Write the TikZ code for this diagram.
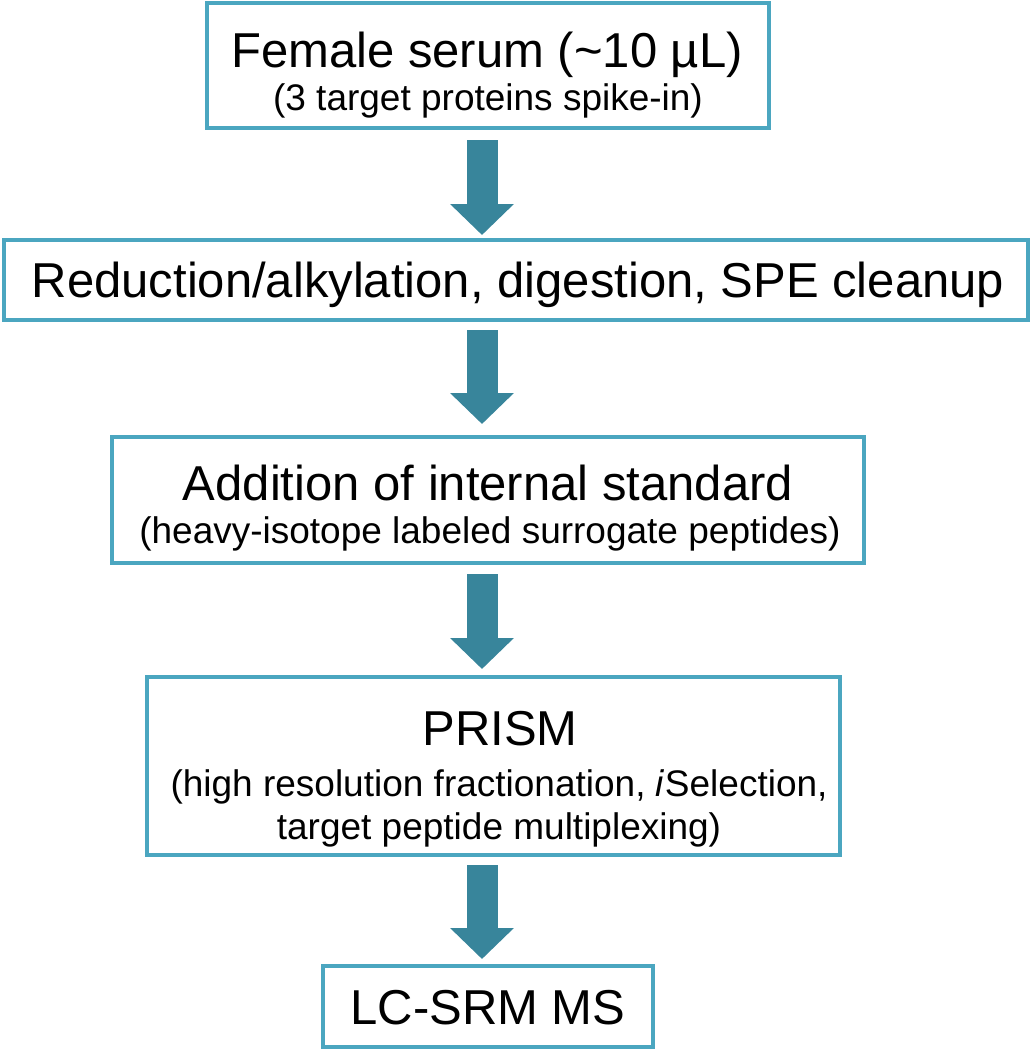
\documentclass[tikz,border=0pt]{standalone}
\usepackage{fontspec}
\setmainfont{Liberation Sans}
\usetikzlibrary{arrows.meta}
\definecolor{boxline}{RGB}{75,166,192}
\definecolor{arrowfill}{RGB}{56,133,155}
\begin{document}
\begin{tikzpicture}[x=1pt,y=-1pt,
  stepbox/.style={draw=boxline, line width=4pt, rectangle, inner sep=0pt, outer sep=0pt, fill=white},
  bigtxt/.style={font=\fontsize{49}{56}\selectfont, inner sep=0pt, anchor=base},
  smalltxt/.style={font=\fontsize{37}{42}\selectfont, inner sep=0pt, anchor=base},
  flow/.style={draw=arrowfill, line width=31pt, -{Triangle[width=62pt,length=31pt]}}]
\useasboundingbox (0,0) rectangle (1032,1050);
\coordinate (ax) at (482,0);
% boxes
\node[stepbox, minimum width=562pt, minimum height=125pt] (b1) at (488,65.5) {};
\node[stepbox, minimum width=1024pt, minimum height=80pt] (b2) at (516,280) {};
\node[stepbox, minimum width=752pt, minimum height=126pt] (b3) at (488,500) {};
\node[stepbox, minimum width=693pt, minimum height=178pt] (b4) at (493.5,766) {};
\node[stepbox, minimum width=330pt, minimum height=81pt] (b5) at (488,1006.5) {};
% texts
\node[bigtxt] (t1) at (487,67) {Female serum (\textasciitilde10 µL)};
\node[smalltxt] (t1s) at (488,110) {(3 target proteins spike-in)};
\node[bigtxt] (t2) at (518,297) {Reduction/alkylation, digestion, SPE cleanup};
\node[bigtxt] (t3) at (488,500) {Addition of internal standard};
\node[smalltxt] (t3s) at (490,543) {(heavy-isotope labeled surrogate peptides)};
\node[bigtxt] (t4) at (500,745) {PRISM};
\node[smalltxt] (t4a) at (499,796) {(high resolution fractionation, \textit{i}Selection,};
\node[smalltxt] (t4b) at (499,839) {target peptide multiplexing)};
\node[bigtxt] (t5) at (488,1024) {LC-SRM MS};
% arrows
\draw[flow] ([yshift=-12pt]b1.south -| ax) -- ([yshift=5pt]b2.north -| ax);
\draw[flow] ([yshift=-10pt]b2.south -| ax) -- ([yshift=13pt]b3.north -| ax);
\draw[flow] ([yshift=-11pt]b3.south -| ax) -- ([yshift=8pt]b4.north -| ax);
\draw[flow] ([yshift=-10pt]b4.south -| ax) -- ([yshift=7pt]b5.north -| ax);
\end{tikzpicture}
\end{document}
